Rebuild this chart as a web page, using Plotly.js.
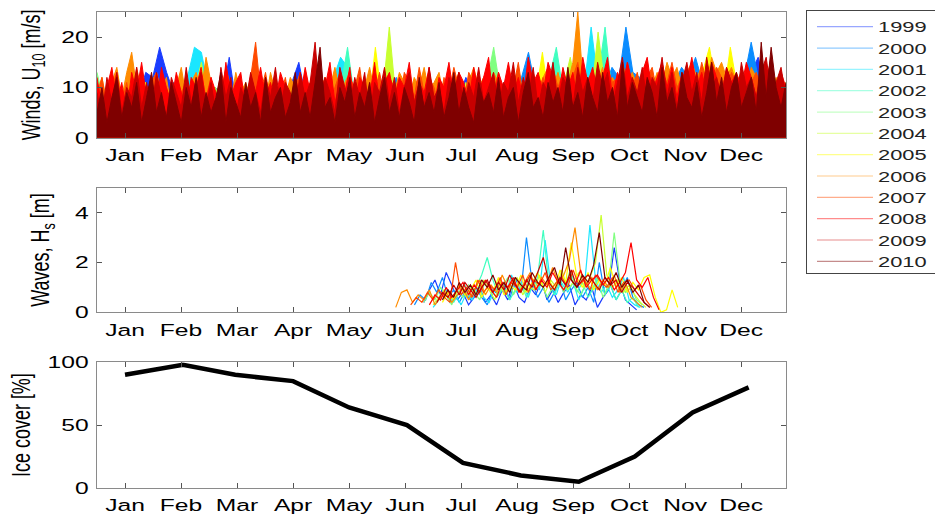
<!DOCTYPE html>
<html><head><meta charset="utf-8">
<script src="https://cdn.plot.ly/plotly-3.0.1.min.js"></script>
<style>
html,body{margin:0;padding:0;background:#fff;}
#chart{width:935px;height:518px;}
.legend .legendlines path{opacity:0.45;}
</style></head><body><div id="chart"></div>
<script>
const years = ['1999','2000','2001','2002','2003','2004','2005','2006','2007','2008','2009','2010'];
const colors = ['#1a3cff','#0a8cff','#1ae6ff','#40ffc0','#80ff80','#c8ff30','#ffff00','#ff8c00','#ff4a00','#ff0000','#c80000','#7f0000'];
const monthLabels = ['Jan','Feb','Mar','Apr','May','Jun','Jul','Aug','Sep','Oct','Nov','Dec'];
const monthTickDays = [15,45,75,105,135,165,195,225,255,285,315,345];

// Winds U10 [m/s], regular samples across the year (day 0 .. 369)
const wind1999 = [6,8,5,9,7,10,8,13,12,18, 13,9,7,8,6,9,7,10,8,16, 7,9,6,8,10,7,9,8,11,15, 8,6,9,7,10,8,6,9,7,10, 8,11,7,9,6,10,8,7,11,9, 7,10,8,12,9,7,11,8,10,9, 12,9,11,8,13,10,9,12,10,14, 11,13,10,16,12,9,14,11,10,12, 9,13,11,10,12,9,11,10,12,9, 10,12,9,11,13,16,10,8,11,9];
const wind2000 = [7,9,6,10,8,7,9,8,6,10, 8,11,9,7,10,8,9,7,10,8, 9,7,10,8,9,7,10,9,8,7, 10,8,9,7,10,9,8,10,7,9, 8,10,9,12,8,10,9,11,8,10, 9,11,10,8,12,10,9,11,10,12, 10,12,17,10,13,11,12,10,13,12, 11,13,12,10,14,12,22,13,12,11, 12,10,13,11,14,12,16,11,10,12, 11,13,10,12,19,12,11,10,11,9];
const wind2001 = [6,8,5,9,7,10,6,9,7,8, 10,7,9,12,18,17,10,8,9,7, 10,8,7,9,8,10,7,9,8,6, 9,8,10,7,12,16,14,9,8,10, 7,9,8,10,7,9,8,10,7,9, 8,10,9,7,10,8,11,9,10,8, 11,9,12,10,11,9,13,10,12,11, 10,22,11,13,10,12,9,11,10,8, 10,9,11,8,10,9,12,10,9,8, 10,9,11,8,10,9,8,10,9,11];
const wind2002 = [10,7,11,8,6,9,7,10,8,6, 9,8,10,7,9,6,8,10,7,9, 8,10,7,9,6,8,10,9,7,8, 10,7,9,8,6,10,18,8,9,7, 8,10,7,9,8,6,10,7,9,8, 10,7,9,8,11,7,9,10,8,12, 9,11,8,10,7,12,18,9,11,10, 13,10,12,22,9,11,8,12,10,9, 11,9,10,8,12,9,10,8,11,9, 10,8,11,9,7,10,9,11,8,10];
const wind2003 = [13,7,9,6,8,10,7,9,5,8, 7,10,6,9,8,7,10,6,8,9, 7,9,6,10,8,7,9,11,6,8, 9,7,10,8,6,9,7,10,8,7, 9,6,10,8,7,9,8,10,7,9, 8,10,7,9,6,8,11,18,9,7, 10,8,9,7,11,8,10,9,7,12, 9,11,8,10,7,9,12,8,10,9, 11,8,10,7,9,8,10,9,7,10, 8,11,9,7,10,8,9,7,10,8];
const wind2004 = [6,9,5,8,10,7,6,9,8,5, 10,7,8,6,9,15,7,10,6,8, 9,7,10,6,8,11,7,9,6,8, 7,10,8,6,9,11,7,8,10,6, 9,8,22,7,10,6,9,8,7,10, 6,9,8,11,7,10,8,6,9,12, 8,10,7,11,9,8,12,10,16,9, 11,8,21,10,7,9,11,8,10,7, 9,11,8,10,7,9,12,8,10,9, 7,10,8,11,9,7,10,8,9,11];
const wind2005 = [5,8,4,10,7,6,9,11,5,8, 7,10,6,9,5,8,11,7,4,9, 8,6,10,7,9,5,8,11,6,7, 9,6,10,8,7,11,5,9,8,6, 18,7,10,9,6,8,11,7,9,5, 8,10,6,9,7,11,8,5,10,7, 9,6,11,8,17,7,10,9,6,11, 8,10,7,12,9,6,11,8,10,7, 9,12,8,10,7,11,9,13,18,10, 8,18,10,9,12,7,10,8,11,9];
const wind2006 = [9,12,7,11,14,8,13,17,10,12, 7,11,13,9,12,6,10,14,8,11, 13,9,16,11,8,12,10,7,13,9, 11,8,12,10,7,13,9,11,8,12, 10,7,13,9,11,8,12,10,14,9, 11,13,8,12,10,14,9,11,7,12, 9,13,11,8,12,10,14,9,11,13, 8,12,10,13,9,11,14,10,12,8, 13,11,9,14,10,12,8,13,11,9, 12,14,10,13,9,11,15,25,12,10, 13,11,14,9,12,10,15,11,13,10, 12,14,10,13,11,15,12,14,10,13, 15,12,14,11,16,13,15,12,14,11, 13,10,14,12,11,13,9,12,10,11];
const wind2007 = [8,12,6,10,13,7,11,5,14,9, 7,11,13,8,10,6,12,9,11,7, 10,13,8,12,6,9,14,10,7,11, 8,12,19,9,13,7,11,8,12,6, 10,13,8,11,14,9,12,7,10,13, 8,12,10,14,7,11,9,13,8,12, 10,7,13,11,8,14,9,12,10,6, 12,9,14,10,7,13,11,8,12,14, 9,13,7,12,10,15,8,11,13,9, 12,8,14,10,13,7,12,15,9,11, 13,10,8,14,11,12,9,15,10,13, 8,12,14,9,13,11,15,10,12,8, 13,10,15,11,9,14,12,10,13,11, 9,14,11,13,10,12,15,9,12,10];
const wind2008 = [12,6,10,14,7,11,5,13,9,15, 8,12,6,14,10,7,13,9,5,12, 10,14,7,12,9,6,15,8,11,13, 6,12,9,14,8,11,7,13,10,5, 12,8,14,9,6,13,10,15,7,11, 9,14,6,12,10,8,15,7,11,13, 8,12,10,15,7,11,9,14,6,12, 10,15,8,13,11,7,14,9,12,16, 7,13,10,15,9,12,8,16,11,13, 9,15,12,8,14,10,13,7,16,11, 14,9,12,16,8,13,10,15,11,7, 13,16,9,12,15,10,14,8,13,11, 16,10,13,9,15,12,8,14,11,13, 10,15,12,8,14,11,16,9,13,10];
const wind2009 = [9,4,12,7,13,5,10,8,14,6, 11,5,13,8,4,12,9,6,14,7, 10,13,6,11,5,14,8,12,4,10, 7,13,9,5,12,8,14,6,11,9, 5,13,8,11,19,7,12,9,5,14, 10,6,12,8,13,4,11,9,14,7, 12,5,10,13,7,11,6,14,8,10, 5,12,9,13,6,11,8,14,7,10, 13,6,11,9,15,7,12,8,14,6, 11,9,15,7,12,10,6,14,9,12, 7,15,10,13,6,11,16,8,12,9, 14,7,12,10,16,8,13,6,11,15, 9,13,7,16,10,12,8,14,11,7, 15,10,12,8,13,16,9,11,14,8];
const wind2010 = [5,10,3,8,12,4,9,6,11,3, 8,13,5,9,4,11,7,3,10,6, 12,4,9,5,8,13,3,10,7,4, 11,6,9,3,12,5,8,10,4,7, 13,5,9,4,11,18,6,8,3,10, 7,12,4,9,6,11,3,8,12,5, 9,4,10,7,3,12,6,9,5,11, 4,8,13,5,10,6,3,11,7,9, 5,12,4,8,10,3,9,13,6,8, 4,11,7,10,5,14,6,9,4,12, 8,5,13,7,10,4,15,6,11,8, 5,12,9,4,14,7,10,5,13,8, 6,11,4,9,15,7,12,5,10,13, 6,9,12,5,19,8,18,10,6,11];
const windSeries = [wind1999,wind2000,wind2001,wind2002,wind2003,wind2004,wind2005,wind2006,wind2007,wind2008,wind2009,wind2010];
const windDayEnd = 369;

// Waves Hs [m], open-water season, first day and 3-day samples
const waveStart = [175,170,180,185,175,180,185,160,168,178,182,185];
const waveStepDays = 3;
const wave1999 = [0.4,0.9,1.3,0.7,1.6,1.1,0.5,0.8,0.3,0.6,1.0,0.4,0.7,0.3,0.9,0.5,1.2,0.6,0.4,1.0,0.7,1.3,0.5,0.9,0.4,0.8,1.1,0.3,0.7,0.5,1.0,0.2,0.6,0.9,2.6,1.2,0.5,0.3,0.1];
const wave2000 = [0.3,0.7,0.5,1.2,0.8,1.4,0.6,0.9,0.4,0.8,0.5,1.0,0.6,0.3,0.9,0.7,1.1,0.5,1.4,0.8,3.0,1.2,0.6,1.0,0.4,0.8,1.3,0.5,0.9,1.2,0.6,1.0,0.4,2.0,0.7,1.1,0.5,0.9,1.4,0.6,0.3,0.2];
const wave2001 = [0.2,0.5,0.9,0.4,0.7,0.3,0.8,0.5,1.0,0.6,0.4,0.9,1.2,0.7,1.5,0.8,1.1,0.6,1.3,0.9,2.9,1.1,0.7,1.4,0.8,1.2,0.5,1.0,3.5,1.3,0.8,1.1,0.6,0.9,1.4,0.5,0.3,0.2];
const wave2002 = [0.5,0.9,0.4,0.8,1.1,0.6,1.0,1.5,2.2,1.3,0.7,1.0,0.5,0.9,1.2,0.6,1.0,1.4,3.3,1.1,0.7,1.3,0.9,1.6,0.8,1.2,0.6,1.0,1.4,0.7,1.1,0.5,0.9,0.4,0.6,0.2];
const wave2003 = [0.4,0.8,0.5,1.0,0.7,0.3,0.9,0.6,1.1,0.8,0.5,1.3,0.9,0.6,1.0,1.4,0.7,1.1,0.8,1.5,0.9,1.2,0.6,1.0,1.3,0.8,1.6,1.0,0.7,1.2,0.9,1.4,0.6,1.1,3.2,1.3,0.8,1.0,0.5,0.3];
const wave2004 = [0.3,0.6,0.9,0.5,0.8,1.1,0.6,1.0,0.7,1.3,0.9,0.5,1.2,0.8,1.0,1.4,0.7,1.1,0.9,1.5,0.8,1.3,1.0,1.7,0.9,1.2,1.6,1.0,1.4,2.0,3.9,1.5,1.0,1.3,0.8,1.1,0.7,0.4,0.2];
const wave2005 = [0.4,0.8,0.5,1.1,0.7,0.9,1.3,0.6,1.0,0.8,1.4,0.7,1.1,0.9,1.5,0.8,1.2,1.6,1.0,1.3,0.9,1.7,1.2,2.8,1.4,1.0,1.6,0.9,1.3,1.1,1.8,1.0,1.4,0.8,1.2,0.9,1.4,1.5,0.6,0.0,0.1,0.9,0.2];
const wave2006 = [0.2,0.8,0.9,0.4,0.7,0.5,0.9,0.3,0.6,0.8,0.4,0.7,1.0,0.5,0.9,1.3,0.7,1.1,0.8,1.5,1.0,1.3,0.8,1.2,1.6,0.9,1.4,1.1,1.8,1.2,1.5,2.1,3.4,1.6,1.1,1.4,0.9,1.3,1.0,1.5,0.8,1.2,0.6,0.4,0.2];
const wave2007 = [0.3,0.6,0.4,0.8,0.5,0.9,0.6,0.4,2.0,0.7,1.0,0.6,1.3,0.8,1.1,0.9,1.4,0.7,1.2,1.0,1.5,0.8,1.3,1.1,1.6,0.9,1.2,1.4,1.0,1.7,1.1,1.3,0.9,1.5,1.2,1.0,1.4,0.8,1.2,1.3,0.9,1.1,0.5,0.2];
const wave2008 = [0.3,0.7,0.5,1.0,0.6,0.9,1.2,0.7,1.1,0.8,1.3,0.9,0.6,1.2,1.0,1.4,0.8,1.1,1.5,0.9,1.3,1.0,1.6,1.2,0.9,1.4,1.1,1.7,1.0,1.3,1.5,1.1,1.4,0.9,1.2,1.6,2.8,1.3,1.0,1.4,0.6,0.1];
const wave2009 = [0.4,0.8,0.6,1.1,0.7,1.2,0.9,0.6,1.0,1.3,0.8,1.2,0.9,1.5,1.1,0.8,1.3,1.0,1.6,2.2,1.2,0.9,1.4,1.1,1.7,1.0,1.3,1.5,1.2,0.9,1.4,1.1,1.3,0.8,1.2,1.0,0.7,0.4,0.2];
const wave2010 = [0.5,0.9,0.6,1.2,0.8,1.1,0.7,1.3,1.0,1.5,0.9,1.2,0.8,1.4,1.1,0.9,1.6,1.2,1.0,1.4,1.8,1.1,2.6,1.3,1.0,1.5,1.2,1.9,3.2,1.4,1.1,1.6,1.0,1.3,0.8,1.1,0.4,0.2];
const waveSeries = [wave1999,wave2000,wave2001,wave2002,wave2003,wave2004,wave2005,wave2006,wave2007,wave2008,wave2009,wave2010];

// Ice cover [%], monthly mid-points
const iceDays = [15,46,74,105,135,166,196,227,258,288,319,349];
const iceCover = [90,98,90,85,64,50,20,10,5,25,60,80];

const FONT = 'Liberation Sans, Arial, Helvetica, sans-serif';
const data = [];
windSeries.forEach(function(vals, k){
  const n = vals.length;
  data.push({
    type:'scatter', mode:'lines', xaxis:'x', yaxis:'y',
    x: vals.map(function(v,i){ return i*windDayEnd/(n-1); }), y: vals,
    line:{color:colors[k], width:1}, fill:'tozeroy', fillcolor:colors[k],
    name:years[k], showlegend:false, hoverinfo:'skip'
  });
});
waveSeries.forEach(function(vals, k){
  data.push({
    type:'scatter', mode:'lines', xaxis:'x2', yaxis:'y2',
    x: vals.map(function(v,i){ return waveStart[k] + i*waveStepDays; }), y: vals,
    line:{color:colors[k], width:1.2}, name:years[k], showlegend:true, hoverinfo:'skip'
  });
});
data.push({
  type:'scatter', mode:'lines', xaxis:'x3', yaxis:'y3',
  x: iceDays, y: iceCover, line:{color:'#000', width:4.5}, showlegend:false, name:'Ice cover'
});

function xax(anchor){
  return {anchor:anchor, domain:[0,1], range:[0,369], tickmode:'array', tickvals:monthTickDays, ticktext:monthLabels,
    ticks:'inside', ticklen:5, tickcolor:'#555', showline:true, linecolor:'#8a8a8a', linewidth:1, mirror:'ticks',
    showgrid:false, zeroline:false, ticklabelstandoff:2, tickfont:{family:FONT, size:17, color:'#000'}};
}
function yax(anchor, dom, range, tv, title){
  return {anchor:anchor, domain:dom, range:range, tickmode:'array', tickvals:tv,
    ticks:'inside', ticklen:5, tickcolor:'#555', showline:true, linecolor:'#8a8a8a', linewidth:1, mirror:'ticks',
    showgrid:false, zeroline:false, ticklabelstandoff:4, tickfont:{family:FONT, size:17, color:'#000'},
    title:{text:title, font:{family:FONT, size:18, color:'#000'}, standoff:24}};
}
const layout = {
  width:935, height:518, margin:{l:97, r:149, t:11, b:30},
  paper_bgcolor:'#fff', plot_bgcolor:'#fff', showlegend:true,
  xaxis: xax('y'), yaxis: yax('x', [0.7358,1], [0,25], [0,10,20], 'Winds, U<sub>10</sub> [m/s]'),
  xaxis2: xax('y2'), yaxis2: yax('x2', [0.369,0.631], [0,5], [0,2,4], 'Waves, H<sub>s</sub> [m]'),
  xaxis3: xax('y3'), yaxis3: yax('x3', [0,0.2642], [0,100], [0,50,100], 'Ice cover [%]'),
  legend:{x:(806-97)/689, xanchor:'left', y:1.002, yanchor:'top', bgcolor:'#fff', bordercolor:'#444', borderwidth:1,
    font:{family:FONT, size:14.1, color:'#222'}, itemwidth:56, tracegroupgap:0}
};

// widen the text horizontally (the reference figure is stretched sideways)
function stretchAll(gd, sel, s){
  gd.querySelectorAll(sel).forEach(function(el){
    if(el.__stretched) return;
    el.__stretched = true;
    const x = parseFloat(el.getAttribute('x'))||0, y = parseFloat(el.getAttribute('y'))||0;
    const old = el.getAttribute('transform') || '';
    let px = x, py = y;
    const tl = el.transform && el.transform.baseVal;
    if(tl && tl.numberOfItems){
      const m = tl.consolidate().matrix;
      px = m.a*x + m.c*y + m.e; py = m.b*x + m.d*y + m.f;
    }
    el.setAttribute('transform', 'translate('+px+','+py+') scale('+s+',1) translate('+(-px)+','+(-py)+') '+old);
  });
}

const gd = document.getElementById('chart');
function post(){
  stretchAll(gd, '.xtick text, .x2tick text, .x3tick text', 1.45);
  stretchAll(gd, '.ytick text, .y2tick text, .y3tick text', 1.45);
  stretchAll(gd, '.g-ytitle text, .g-y2title text, .g-y3title text', 1.45);
  stretchAll(gd, '.legendtext', 1.55);
  const bg = gd.querySelector('.legend .bg'); if(bg){ bg.setAttribute('width', 160); bg.setAttribute('height', 263); }
  gd.querySelectorAll('clipPath[id^="legend"] rect').forEach(function(r){ r.setAttribute('width', 220); r.setAttribute('height', 263); });
  const sb = gd.querySelector('.legend .scrollbox');
  if(sb && !sb.__shifted){ sb.__shifted = true; sb.setAttribute('transform', (sb.getAttribute('transform')||'') + ' translate(5,0)'); }
}
Plotly.newPlot(gd, data, layout, {displayModeBar:false, staticPlot:true}).then(function(){
  post();
  setTimeout(post, 200);
});
</script></body></html>
